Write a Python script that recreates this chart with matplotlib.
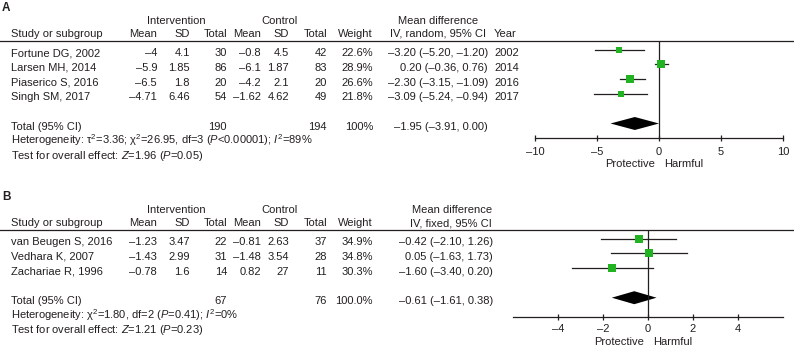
import matplotlib
matplotlib.use('Agg')
import matplotlib.pyplot as plt

plt.rcParams['font.family'] = ['Liberation Sans', 'DejaVu Sans']
plt.rcParams['font.size'] = 8
plt.rcParams['mathtext.fontset'] = 'custom'
plt.rcParams['mathtext.rm'] = 'Liberation Sans'
plt.rcParams['mathtext.it'] = 'Liberation Sans:italic'

INK = '#231f20'
GREEN = '#21b321'

# ---- panel A data (random effects) ----
studies_a = ['Fortune DG, 2002', 'Larsen MH, 2014', 'Piaserico S, 2016', 'Singh SM, 2017']
int_mean_a = [-4, -5.9, -6.5, -4.71]
int_sd_a = [4.1, 1.85, 1.8, 6.46]
int_n_a = [30, 86, 20, 54]
ctl_mean_a = [-0.8, -6.1, -4.2, -1.62]
ctl_sd_a = [4.5, 1.87, 2.1, 4.62]
ctl_n_a = [42, 83, 20, 49]
weight_a = [22.6, 28.9, 26.6, 21.8]
md_a = [-3.20, 0.20, -2.30, -3.09]
lo_a = [-5.20, -0.36, -3.15, -5.24]
hi_a = [-1.20, 0.76, -1.09, -0.94]
year_a = [2002, 2014, 2016, 2017]
total_a = [190, 194, '100%', -1.95, -3.91, 0.00]
ticks_a = [-10, -5, 0, 5, 10]

# ---- panel B data (fixed effects) ----
studies_b = ['van Beugen S, 2016', 'Vedhara K, 2007', 'Zachariae R, 1996']
int_mean_b = [-1.23, -1.43, -0.78]
int_sd_b = [3.47, 2.99, 1.6]
int_n_b = [22, 31, 14]
ctl_mean_b = [-0.81, -1.48, 0.82]
ctl_sd_b = [2.63, 3.54, 27]
ctl_n_b = [37, 28, 11]
weight_b = [34.9, 34.8, 30.3]
md_b = [-0.42, 0.05, -1.60]
lo_b = [-2.10, -1.63, -3.40]
hi_b = [1.26, 1.73, 0.20]
total_b = [67, 76, '100.0%', -0.61, -1.61, 0.38]
ticks_b = [-4, -2, 0, 2, 4]

W, H = 794, 346
fig = plt.figure(figsize=(W / 100, H / 100), dpi=100)
ax = fig.add_axes([0, 0, 1, 1])
ax.set_xlim(0, W)
ax.set_ylim(H, 0)
ax.axis('off')


def num(v):
    return f'{v:g}'.replace('-', '\u2013')


def ci(m, l, h):
    return f'{m:.2f} ({l:.2f}, {h:.2f})'.replace('-', '\u2013')


def put(x, y, s, ha='left', **kw):
    # y is the visual middle of the capitals
    ax.text(x, y + 4, s, ha=ha, va='baseline', color=INK, **kw)


def panel(top, label, model, studies, cols, weight, md, lo, hi, total,
          het, test, md_right, md_head_x, md_head_ha, year,
          xlim, ticks, zero_px, px_unit, axis_y, tick_pad, foot_y, msize):
    put(2, top + 7, label, fontweight='bold', fontsize=8.5)
    put(176, top + 20, 'Intervention', ha='center')
    put(280, top + 20, 'Control', ha='center')
    put(md_head_x, top + 20, 'Mean difference', ha=md_head_ha)
    put(md_head_x, top + 33, f'IV, {model}, 95% CI', ha=md_head_ha)
    put(11, top + 33, 'Study or subgroup')
    right = [157, 190, 227, 261, 289, 327, 373]
    for x, s in zip(right, ['Mean', 'SD', 'Total', 'Mean', 'SD', 'Total', 'Weight']):
        put(x, top + 33, s, ha='right')
    if year:
        put(494, top + 33, 'Year')
    ax.plot([0, W], [top + 41, top + 41], color=INK, lw=0.9)

    # forest axes positioned in pixel space
    x0 = zero_px + xlim[0] * px_unit
    x1 = zero_px + xlim[1] * px_unit
    y_top = top + 41
    fax = fig.add_axes([x0 / W, 1 - axis_y / H, (x1 - x0) / W, (axis_y - y_top) / H])
    fax.set_xlim(*xlim)
    fax.set_ylim(axis_y, y_top)
    fax.patch.set_alpha(0)
    for s in ['top', 'left', 'right']:
        fax.spines[s].set_visible(False)
    fax.spines['bottom'].set_color(INK)
    fax.spines['bottom'].set_linewidth(0.9)
    fax.set_yticks([])
    fax.set_xticks(ticks)
    fax.set_xticklabels([num(t) for t in ticks])
    fax.tick_params(axis='x', direction='inout', length=5, width=0.9,
                    pad=tick_pad, labelsize=8, colors=INK)
    fax.axvline(0, color=INK, lw=0.9)

    for i, name in enumerate(studies):
        y = top + 52 + 14.8 * i
        put(11, y, name)
        vals = [c[i] for c in cols]
        for x, v in zip(right[:6], vals):
            put(x, y, num(v), ha='right')
        put(373, y, f'{weight[i]:.1f}%', ha='right')
        put(md_right, y, ci(md[i], lo[i], hi[i]), ha='right')
        if year:
            put(494, y, str(year[i]))
        fax.plot([lo[i], hi[i]], [y - 2.5, y - 2.5], color=INK, lw=0.9,
                 clip_on=False)
        fax.plot([md[i]], [y - 2.5], marker='s', ms=weight[i] * msize,
                 color=GREEN, mew=0, zorder=3, clip_on=False)

    ty = top + 52 + 14.8 * (len(studies) + 1)
    put(11, ty, 'Total (95% CI)')
    put(227, ty, num(total[0]), ha='right')
    put(327, ty, num(total[1]), ha='right')
    put(373, ty, total[2], ha='right')
    put(md_right, ty, ci(total[3], total[4], total[5]), ha='right')
    put(11, ty + 14.5, het)
    put(11, ty + 29, test)
    dy = ty - 2.5
    fax.fill([total[4], total[3], total[5], total[3]],
             [dy, dy - 6.5, dy, dy + 6.5], color='black', lw=0, clip_on=False)

    put(zero_px - 4, foot_y, 'Protective', ha='right')
    put(zero_px + 5, foot_y, 'Harmful', ha='left')


panel(0, 'A', 'random',
      studies_a, [int_mean_a, int_sd_a, int_n_a, ctl_mean_a, ctl_sd_a, ctl_n_a],
      weight_a, md_a, lo_a, hi_a, total_a,
      r'Heterogeneity: τ$^2$=3.36; χ$^2$=26.95, df=3 ($P$<0.00001); $I^2$=89%',
      r'Test for overall effect: $Z$=1.96 ($P$=0.05)',
      488, 438, 'center', year_a,
      (-10, 10), ticks_a, 659, 12.4, 137.5, 4.0, 163, 0.19)

panel(189, 'B', 'fixed',
      studies_b, [int_mean_b, int_sd_b, int_n_b, ctl_mean_b, ctl_sd_b, ctl_n_b],
      weight_b, md_b, lo_b, hi_b, total_b,
      r'Heterogeneity: χ$^2$=1.80, df=2 ($P$=0.41); $I^2$=0%',
      r'Test for overall effect: $Z$=1.21 ($P$=0.23)',
      493, 492, 'right', None,
      (-6, 6), ticks_b, 648, 22.5, 317, 2.5, 341, 0.17)

fig.savefig('out.png', dpi=100)
